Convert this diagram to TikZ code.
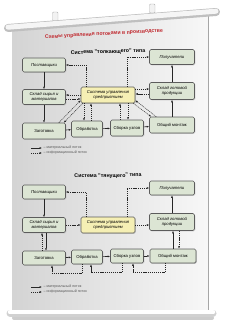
\documentclass[tikz,border=0pt]{standalone}
\usepackage{fontspec}
\setmainfont{Liberation Sans}
\usetikzlibrary{arrows.meta,shadows}

\definecolor{boxgreen}{HTML}{DCE5D4}
\definecolor{boxyellow}{HTML}{F5EFB4}
\definecolor{titlered}{HTML}{C0282E}
\definecolor{edgegray}{HTML}{5C5C5C}

\newcommand{\qmark}{\symbol{34}}

\tikzset{
    unit/.style = {draw=edgegray, line width=0.7pt, fill=boxgreen, rounded corners=1.5pt,
                   minimum width=43pt, minimum height=14pt, inner sep=0.6pt, align=center,
                   font=\fontsize{4.2}{4.6}\selectfont\itshape,
                   drop shadow={shadow xshift=0.8pt, shadow yshift=-0.8pt, fill=black!35}},
    shop/.style = {unit, font=\fontsize{4.2}{4.6}\selectfont},
    ctrl/.style = {unit, fill=boxyellow, minimum width=54pt, minimum height=16pt},
    mat/.style  = {-{Latex[length=2.4pt,width=2pt]}, line width=0.6pt, black!85},
    info/.style = {mat, line width=0.45pt, dash pattern=on 1.1pt off 0.8pt},
    legend/.style = {anchor=west, inner sep=0.5pt, text=black!65, font=\fontsize{3.6}{4}\selectfont}
}

\begin{document}
\begin{tikzpicture}[x=1pt, y=-1pt]
    \useasboundingbox (0,0) rectangle (225,324);

    % poster sheet and rollers
    \shade[left color=black!17, right color=black!3] (12,30) -- (208,16) -- (208,311) -- (12,311) -- cycle;
    \draw[black!35, line width=0.7pt] (208,16) -- (208,311);
    \filldraw[draw=black!30, fill=black!5, rounded corners=1pt] (52.5,12) rectangle (58,21);
    \filldraw[draw=black!30, fill=black!5, rounded corners=1pt] (149.5,4) rectangle (155,13);
    \draw[line cap=round, line width=8pt, black!25] (8,28) -- (216,12);
    \draw[line cap=round, line width=5pt, black!4] (8,27.2) -- (216,11.2);
    \draw[line cap=round, line width=4pt, black!20] (14,318) -- (212,318);
    \draw[line cap=round, line width=7pt, black!18] (10,313) -- (213,313);
    \draw[line cap=round, line width=4.5pt, white] (10,312.2) -- (213,312.2);

    % titles
    \node[rotate=3.2, text=titlered, font=\fontsize{5.2}{6}\selectfont\bfseries] (title) at (104,34) {Схемы управления потоками в производстве};
    \node[rotate=1.5, font=\fontsize{5.3}{6}\selectfont\bfseries] (pushtitle) at (108,52) {Система \qmark толкающего\qmark{} типа};
    \node[rotate=1, font=\fontsize{5.3}{6}\selectfont\bfseries] (pulltitle) at (108,176) {Система \qmark тянущего\qmark{} типа};

    % push system
    {
        \node[unit] (psup) at (44,65) {Поставщики};
        \node[unit, minimum height=15pt] (pstore) at (44,97) {Склад сырья и\\материалов};
        \node[ctrl] (pctrl) at (108,95) {Система управления\\предприятием};
        \node[unit, minimum width=45pt, minimum height=15pt] (precv) at (172,57) {Получатели};
        \node[unit, minimum width=45pt, minimum height=17pt] (pfin) at (172,91) {Склад готовой\\продукции};
        \node[shop, minimum height=16pt] (pblank) at (44,131) {Заготовка};
        \node[shop, minimum width=31pt, minimum height=16pt] (pmach) at (87,129) {Обработка};
        \node[shop, minimum width=33pt, minimum height=16pt] (passm) at (127,128) {Сборка узлов};
        \node[shop, minimum width=45pt, minimum height=16pt] (pmount) at (172,125) {Общий монтаж};
    }

    \draw (psup) edge[mat] (pstore);
    \draw (pstore) edge[mat] (pblank);
    \draw (pblank) edge[mat] (pmach);
    \draw (pmach) edge[mat] (passm);
    \draw (passm) edge[mat] (pmount);
    \draw (pmount) edge[mat] (pfin);
    \draw (pfin) edge[mat] (precv);

    \draw[info] ([xshift=-22pt]pctrl.north) |- (psup.east);
    \draw[info] ([xshift=19pt]pctrl.north) |- (precv.west);
    \draw[info] ([yshift=2pt]pstore.east -| pctrl.west) -- ([yshift=2pt]pstore.east);
    \draw[info] ([yshift=-2pt]pstore.east) -- ([yshift=-2pt]pstore.east -| pctrl.west);
    \draw[info] ([yshift=6pt]pctrl.east) -- ([yshift=6pt]pctrl.east -| pfin.west);
    \draw[info] ([yshift=1pt]pctrl.east -| pfin.west) -- ([yshift=1pt]pctrl.east);
    \draw[info] ([xshift=2pt]pctrl.south west) -- ([xshift=-2pt]pblank.north east);
    \draw[info] ([xshift=-7pt]pblank.north east) -- ([yshift=3pt]pctrl.south west);
    \draw[info] ([xshift=-3pt]pmach.north |- pctrl.south) -- ([xshift=-3pt]pmach.north);
    \draw[info] ([xshift=4pt]pmach.north) -- ([xshift=4pt]pmach.north |- pctrl.south);
    \draw[info] ([xshift=-7pt]passm.north) -- ([xshift=-7pt]passm.north |- pctrl.south);
    \draw[info] ([xshift=1pt]passm.north |- pctrl.south) -- ([xshift=1pt]passm.north);
    \draw[info] ([xshift=-2pt]pctrl.south east) -- ([xshift=2pt]pmount.north west);
    \draw[info] ([xshift=7pt]pmount.north west) -- ([yshift=3pt]pctrl.south east);

    % legend of the push system
    \coordinate (pleg1a) at (31,148);
    \coordinate (pleg1b) at (42,148);
    \coordinate (pleg2a) at (31,153);
    \coordinate (pleg2b) at (42,153);
    \draw (pleg1a) edge[mat] (pleg1b);
    \draw (pleg2a) edge[info] (pleg2b);
    \node[legend] (plegmat) at (43,148) {-- материальный поток};
    \node[legend] (pleginfo) at (43,153) {-- информационный поток};

    % pull system
    {
        \node[unit] (qsup) at (44,192) {Поставщики};
        \node[unit, minimum height=15pt] (qstore) at (44,225) {Склад сырья и\\материалов};
        \node[ctrl] (qctrl) at (108,225) {Система управления\\предприятием};
        \node[unit, minimum width=45pt] (qrecv) at (172,188) {Получатели};
        \node[unit, minimum width=45pt, minimum height=17pt] (qfin) at (172,222) {Склад готовой\\продукции};
        \node[shop] (qblank) at (44,258) {Заготовка};
        \node[shop, minimum width=31pt] (qmach) at (87,257) {Обработка};
        \node[shop, minimum width=33pt] (qassm) at (127,256) {Сборка узлов};
        \node[shop, minimum width=46pt] (qmount) at (173,256) {Общий монтаж};
    }

    \draw (qsup) edge[mat] (qstore);
    \draw ([xshift=2pt]qstore.south) edge[mat] ([xshift=2pt]qblank.north);
    \draw (qblank) edge[mat] (qmach);
    \draw (qmach) edge[mat] (qassm);
    \draw (qassm) edge[mat] (qmount);
    \draw (qmount.north) edge[mat] (qmount.north |- qfin.south);
    \draw (qfin) edge[mat] (qrecv);

    \draw[info] ([xshift=-22pt]qctrl.north) |- (qsup.east);
    \draw[info] ([xshift=19pt]qctrl.north) |- (qrecv.west);
    \draw (qstore) edge[info] (qctrl);
    \draw[info] (qctrl.east) -- (qctrl.east -| qfin.west);
    \draw[info] ([xshift=-2pt]qblank.north) -- ([xshift=-2pt]qblank.north |- qstore.south);
    \draw[info] ([xshift=6pt]qmount.north |- qfin.south) -- ([xshift=6pt]qmount.north);
    \draw[info] ([xshift=-5pt]qmach.south) -- ++(0,9) -| ([xshift=8pt]qblank.south);
    \draw[info] ([xshift=-5pt]qassm.south) -- ++(0,9) -| ([xshift=4pt]qmach.south);
    \draw[info] ([xshift=-8pt]qmount.south) -- ++(0,9) -| ([xshift=6pt]qassm.south);

    % legend of the pull system
    \coordinate (qleg1a) at (31,287);
    \coordinate (qleg1b) at (42,287);
    \coordinate (qleg2a) at (31,292);
    \coordinate (qleg2b) at (42,292);
    \draw (qleg1a) edge[mat] (qleg1b);
    \draw (qleg2a) edge[info] (qleg2b);
    \node[legend] (qlegmat) at (43,287) {-- материальный поток};
    \node[legend] (qleginfo) at (43,292) {-- информационный поток};
\end{tikzpicture}
\end{document}
